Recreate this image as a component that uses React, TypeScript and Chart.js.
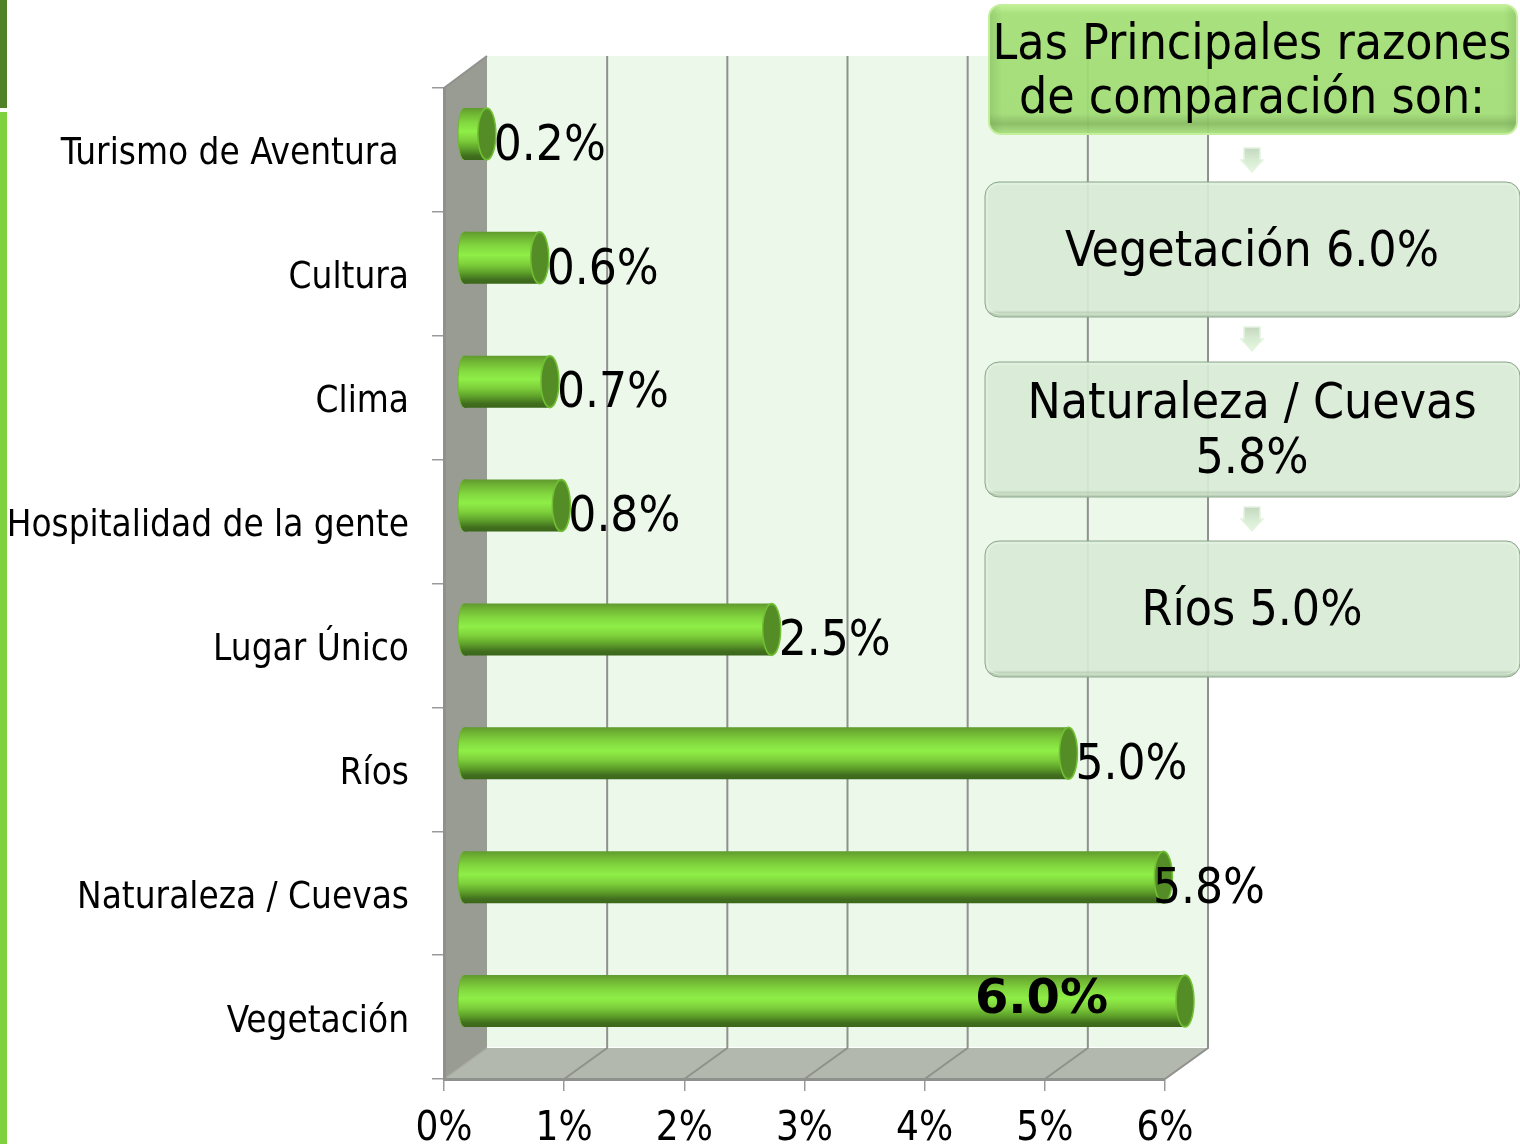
import React, { useEffect, useRef } from "react";
import { Chart, registerables } from "chart.js";

Chart.register(...registerables);

const FONT = '"DejaVu Sans Condensed", "DejaVu Sans", sans-serif';

const categories = [
  "Turismo de Aventura ",
  "Cultura",
  "Clima",
  "Hospitalidad de la gente",
  "Lugar Único",
  "Ríos",
  "Naturaleza / Cuevas",
  "Vegetación",
];
const values = [0.19, 0.63, 0.715, 0.81, 2.56, 5.03, 5.82, 6.0];
const valueLabels = ["0.2%", "0.6%", "0.7%", "0.8%", "2.5%", "5.0%", "5.8%", "6.0%"];
const axisTicks = ["0%", "1%", "2%", "3%", "4%", "5%", "6%"];
const headerLines = ["Las Principales razones", "de comparación son:"];
const box1Lines = ["Vegetación 6.0%"];
const box2Lines = ["Naturaleza / Cuevas", "5.8%"];
const box3Lines = ["Ríos 5.0%"];

const DEPTH_X = 43;
const DEPTH_Y = 32;
const BAR_DX = 20;
const BAR_DY = -16;
const CAP_RX = 9;
const BACK_RX = 6;
const GRID = "#8f918c";

function barGradient(ctx: CanvasRenderingContext2D, top: number, bottom: number) {
  const g = ctx.createLinearGradient(0, top, 0, bottom);
  g.addColorStop(0, "#5f9a2e");
  g.addColorStop(0.1, "#6fb233");
  g.addColorStop(0.28, "#82d83f");
  g.addColorStop(0.45, "#8fee47");
  g.addColorStop(0.62, "#7ed03b");
  g.addColorStop(0.78, "#5fa22b");
  g.addColorStop(0.92, "#416f1e");
  g.addColorStop(1, "#3a6619");
  return g;
}

function roundPath(ctx: CanvasRenderingContext2D, x: number, y: number, w: number, h: number, r: number) {
  ctx.beginPath();
  ctx.roundRect(x, y, w, h, r);
}

const wallsPlugin = {
  id: "walls",
  beforeDraw(chart: any) {
    const { ctx, chartArea: a, scales } = chart;
    const { left: l, right: r, top: t, bottom: b } = a;
    ctx.save();
    ctx.fillStyle = "#ffffff";
    ctx.fillRect(0, 0, chart.width, chart.height);
    // page edge stripe
    ctx.fillStyle = "#4f8227";
    ctx.fillRect(0, 0, 7, 108);
    ctx.fillStyle = "#7fd13f";
    ctx.fillRect(0, 112, 7, chart.height - 112);
    // back wall
    ctx.fillStyle = "#ecf8ea";
    ctx.fillRect(l + DEPTH_X, t - DEPTH_Y, r - l, b - t);
    // left wall
    ctx.fillStyle = "#999c93";
    ctx.beginPath();
    ctx.moveTo(l, t);
    ctx.lineTo(l + DEPTH_X, t - DEPTH_Y);
    ctx.lineTo(l + DEPTH_X, b - DEPTH_Y + 1);
    ctx.lineTo(l, b);
    ctx.closePath();
    ctx.fill();
    // floor
    ctx.fillStyle = "#b3b8ae";
    ctx.beginPath();
    ctx.moveTo(l, b);
    ctx.lineTo(l + DEPTH_X, b - DEPTH_Y + 1);
    ctx.lineTo(r + DEPTH_X, b - DEPTH_Y + 1);
    ctx.lineTo(r, b);
    ctx.closePath();
    ctx.fill();
    // grid lines, back wall + floor
    ctx.strokeStyle = GRID;
    ctx.lineWidth = 2;
    scales.x.ticks.forEach((_: any, i: number) => {
      if (i === 0) return;
      const x = scales.x.getPixelForTick(i);
      ctx.beginPath();
      ctx.moveTo(x + DEPTH_X, t - DEPTH_Y);
      ctx.lineTo(x + DEPTH_X, b - DEPTH_Y + 1);
      ctx.lineTo(x, b);
      ctx.stroke();
    });
    ctx.beginPath();
    ctx.moveTo(l, t);
    ctx.lineTo(l + DEPTH_X, t - DEPTH_Y);
    ctx.stroke();
    ctx.strokeStyle = "#a7aaa3";
    ctx.lineWidth = 1.5;
    ctx.beginPath();
    ctx.moveTo(l, b);
    ctx.lineTo(l + DEPTH_X, b - DEPTH_Y + 1);
    ctx.stroke();
    ctx.restore();
  },
};

const cylinderPlugin = {
  id: "cylinder",
  beforeDatasetsDraw(chart: any) {
    chart.ctx.save();
    chart.ctx.translate(BAR_DX, BAR_DY);
  },
  afterDatasetsDraw(chart: any) {
    const { ctx, scales } = chart;
    const meta = chart.getDatasetMeta(0);
    const x0 = scales.x.getPixelForValue(0);
    meta.data.forEach((bar: any) => {
      const h = bar.height / 2;
      // rounded back end, overlapping the bar so no seam shows
      ctx.fillStyle = barGradient(ctx, bar.y - h, bar.y + h);
      ctx.beginPath();
      ctx.ellipse(x0, bar.y, BACK_RX, h, 0, Math.PI / 2, (Math.PI * 3) / 2);
      ctx.lineTo(x0 + 3, bar.y - h);
      ctx.lineTo(x0 + 3, bar.y + h);
      ctx.closePath();
      ctx.fill();
      ctx.strokeStyle = "#6db832";
      ctx.lineWidth = 1;
      ctx.beginPath();
      ctx.ellipse(x0, bar.y, BACK_RX, h, 0, Math.PI / 2, (Math.PI * 3) / 2);
      ctx.stroke();
      // bright rim behind the end face
      ctx.fillStyle = "#5c9e2a";
      ctx.beginPath();
      ctx.ellipse(bar.x, bar.y, CAP_RX, h, 0, 0, Math.PI * 2);
      ctx.fill();
      ctx.strokeStyle = "#72c034";
      ctx.lineWidth = 1.5;
      ctx.stroke();
      ctx.fillStyle = "#548c26";
      ctx.beginPath();
      ctx.ellipse(bar.x, bar.y, CAP_RX - 1, h - 2, 0, 0, Math.PI * 2);
      ctx.fill();
    });
    ctx.restore();

    // value labels
    ctx.save();
    ctx.fillStyle = "#000000";
    ctx.textBaseline = "middle";
    meta.data.forEach((bar: any, i: number) => {
      const capX = bar.x + BAR_DX;
      const midY = bar.y + BAR_DY;
      if (i === meta.data.length - 1) {
        ctx.font = `bold 48px "DejaVu Sans", sans-serif`;
        ctx.textAlign = "right";
        ctx.fillText(valueLabels[i], capX - 77, midY - 1);
      } else {
        ctx.font = `49px ${FONT}`;
        ctx.textAlign = "left";
        ctx.fillText(valueLabels[i], Math.min(capX + 7, 1153), midY + 13);
      }
    });
    ctx.restore();
  },
};

function drawArrow(ctx: CanvasRenderingContext2D, cx: number, top: number) {
  ctx.save();
  ctx.beginPath();
  ctx.moveTo(cx - 8, top);
  ctx.lineTo(cx + 8, top);
  ctx.lineTo(cx + 8, top + 12);
  ctx.lineTo(cx + 11, top + 12);
  ctx.lineTo(cx, top + 24);
  ctx.lineTo(cx - 11, top + 12);
  ctx.lineTo(cx - 8, top + 12);
  ctx.closePath();
  const g = ctx.createLinearGradient(0, top, 0, top + 24);
  g.addColorStop(0, "#c4d6bf");
  g.addColorStop(0.45, "#d5ead0");
  g.addColorStop(1, "#e6f6e1");
  ctx.fillStyle = g;
  ctx.fill();
  ctx.strokeStyle = "#e4f4df";
  ctx.lineWidth = 1.5;
  ctx.stroke();
  ctx.restore();
}

function drawLines(ctx: CanvasRenderingContext2D, lines: string[], cx: number, ys: number[]) {
  ctx.fillStyle = "#000000";
  ctx.textAlign = "center";
  ctx.textBaseline = "middle";
  ctx.font = `49.5px ${FONT}`;
  lines.forEach((line, i) => ctx.fillText(line, cx, ys[i] + 4));
}

function drawPaleBox(ctx: CanvasRenderingContext2D, y: number, h: number) {
  const x = 985;
  const w = 535;
  const g = ctx.createLinearGradient(0, y, 0, y + h);
  g.addColorStop(0, "rgba(216,235,213,0.92)");
  g.addColorStop(0.95, "rgba(216,235,213,0.92)");
  g.addColorStop(0.975, "rgba(176,200,172,0.95)");
  g.addColorStop(1, "rgba(190,214,186,0.95)");
  ctx.fillStyle = g;
  roundPath(ctx, x, y, w, h, 14);
  ctx.fill();
  ctx.strokeStyle = "#8aa58a";
  ctx.lineWidth = 1;
  ctx.stroke();
  ctx.strokeStyle = "rgba(238,248,236,0.7)";
  ctx.lineWidth = 1;
  roundPath(ctx, x + 2, y + 2, w - 4, h - 5, 12);
  ctx.stroke();
}

const panelPlugin = {
  id: "panel",
  afterDraw(chart: any) {
    const { ctx } = chart;
    const cx = 1252;
    ctx.save();
    // header
    const g = ctx.createLinearGradient(0, 5, 0, 134);
    g.addColorStop(0, "rgba(190,242,145,0.95)");
    g.addColorStop(0.07, "rgba(160,222,114,0.92)");
    g.addColorStop(0.84, "rgba(160,220,115,0.92)");
    g.addColorStop(0.92, "rgba(136,188,98,0.95)");
    g.addColorStop(1, "rgba(170,226,126,0.95)");
    ctx.fillStyle = g;
    roundPath(ctx, 989, 5, 528, 129, 12);
    ctx.fill();
    const side = ctx.createLinearGradient(989, 0, 1517, 0);
    side.addColorStop(0, "rgba(110,160,80,0.3)");
    side.addColorStop(0.025, "rgba(110,160,80,0)");
    side.addColorStop(0.975, "rgba(110,160,80,0)");
    side.addColorStop(1, "rgba(110,160,80,0.3)");
    ctx.fillStyle = side;
    ctx.fill();
    ctx.strokeStyle = "#c3ef9d";
    ctx.lineWidth = 2;
    ctx.stroke();
    drawLines(ctx, headerLines, cx, [42, 96]);

    drawArrow(ctx, cx, 148);
    drawArrow(ctx, cx, 327);
    drawArrow(ctx, cx, 507);

    drawPaleBox(ctx, 182, 135);
    drawLines(ctx, box1Lines, cx, [249]);
    drawPaleBox(ctx, 362, 135);
    drawLines(ctx, box2Lines, cx, [401, 456]);
    drawPaleBox(ctx, 541, 136);
    drawLines(ctx, box3Lines, cx, [608]);
    ctx.restore();
  },
};

export default function App() {
  const ref = useRef<HTMLCanvasElement | null>(null);
  useEffect(() => {
    if (!ref.current) return;
    const chart = new Chart(ref.current, {
      type: "bar",
      data: {
        labels: categories,
        datasets: [
          {
            data: values,
            clip: false,
            barPercentage: 0.42,
            categoryPercentage: 1,
            borderWidth: 0,
            backgroundColor: (c: any) => {
              const y = c.chart.scales.y;
              const mid = y && c.dataIndex !== undefined ? y.getPixelForValue(c.dataIndex) : NaN;
              if (!Number.isFinite(mid)) return "#7ed03b";
              return barGradient(c.chart.ctx, mid - 26, mid + 26);
            },
          } as any,
        ],
      },
      plugins: [wallsPlugin, cylinderPlugin, panelPlugin],
      options: {
        indexAxis: "y",
        animation: false,
        responsive: false,
        layout: { padding: { top: 88, right: 355, left: 0, bottom: 0 } },
        plugins: { legend: { display: false }, tooltip: { enabled: false } },
        scales: {
          x: {
            min: 0,
            max: 6,
            afterFit: (s: any) => {
              s.height = 65;
            },
            ticks: {
              stepSize: 1,
              padding: 15,
              maxRotation: 0,
              color: "#000000",
              font: { family: FONT, size: 40 },
              callback: (_: any, i: number) => axisTicks[i],
            },
            grid: { drawOnChartArea: false, drawTicks: true, tickLength: 12, color: "#9a9a9a", lineWidth: 1.5 },
            border: { display: true, color: GRID, width: 3 },
          },
          y: {
            afterFit: (s: any) => {
              s.width = 444;
            },
            ticks: {
              padding: 23,
              labelOffset: 5,
              color: "#000000",
              autoSkip: false,
              font: { family: FONT, size: 36.6 },
            },
            grid: { offset: true, drawOnChartArea: false, drawTicks: true, tickLength: 12, color: "#9a9a9a", lineWidth: 1.5 },
            border: { display: true, color: GRID, width: 3 },
          },
        },
      } as any,
    });
    return () => chart.destroy();
  }, []);
  return (
    <div style={{ position: "absolute", left: 0, top: 0, width: 1520, height: 1144 }}>
      <canvas ref={ref} width={1520} height={1144} style={{ display: "block" }} />
    </div>
  );
}
